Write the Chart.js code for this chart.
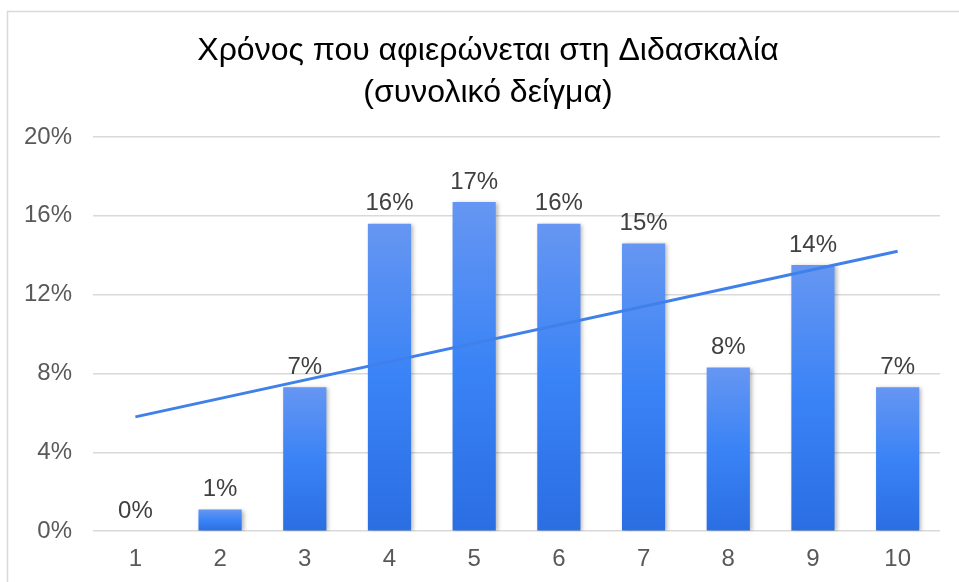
<!DOCTYPE html>
<html>
<head>
<meta charset="utf-8">
<script src="https://cdn.jsdelivr.net/npm/chart.js@4"></script>
<style>
  html, body { margin: 0; padding: 0; background: #fff; }
  #wrap { width: 959px; height: 582px; position: relative; }
</style>
</head>
<body>
<div id="wrap"><canvas id="c" width="959" height="582"></canvas></div>
<script>
// values
const categories = ['1', '2', '3', '4', '5', '6', '7', '8', '9', '10'];
const shares = [0, 1.1, 7.3, 15.6, 16.7, 15.6, 14.6, 8.3, 13.5, 7.3];
const shareLabels = ['0%', '1%', '7%', '16%', '17%', '16%', '15%', '8%', '14%', '7%'];
const trendEnds = [5.8, null, null, null, null, null, null, null, null, 14.2];
const yTicks = [0, 4, 8, 12, 16, 20];
const titleLines = ['Χρόνος που αφιερώνεται στη Διδασκαλία', '(συνολικό δείγμα)'];

const FONT = "'Liberation Sans', Arial, sans-serif";

function barFill(context){
  const chart = context.chart;
  const y = chart.scales && chart.scales.y;
  if (!chart.chartArea || !y || context.raw == null) return '#3a82f2';
  const top = y.getPixelForValue(context.raw);
  const bottom = y.getPixelForValue(0);
  const g = chart.ctx.createLinearGradient(0, top, 0, bottom);
  g.addColorStop(0, '#6696f2');
  g.addColorStop(0.5, '#3a83f6');
  g.addColorStop(1, '#2a6ee2');
  return g;
}

// outer frame + title (title is centred on the frame, not on the canvas)
const frame = {
  id: 'frame',
  beforeDraw(chart){
    const c = chart.ctx;
    c.save();
    c.strokeStyle = '#d9d9d9';
    c.lineWidth = 1.5;
    c.strokeRect(7.5, 11.5, 1000, 1000);
    c.font = '32px ' + FONT;
    c.fillStyle = '#000';
    c.textAlign = 'center';
    c.textBaseline = 'middle';
    titleLines.forEach((t, i) => c.fillText(t, 488, 51 + i * 42));
    c.restore();
  }
};

const barShadow = {
  id: 'barShadow',
  beforeDatasetDraw(chart, args){
    if (args.index !== 0) return;
    const c = chart.ctx;
    c.save();
    c.shadowColor = 'rgba(0,0,0,0.28)';
    c.shadowBlur = 4;
    c.shadowOffsetX = 2;
    c.shadowOffsetY = 1;
  },
  afterDatasetDraw(chart, args){
    if (args.index !== 0) return;
    chart.ctx.restore();
  }
};

const valueLabels = {
  id: 'valueLabels',
  afterDatasetsDraw(chart){
    const c = chart.ctx;
    const meta = chart.getDatasetMeta(0);
    c.save();
    c.font = '24px ' + FONT;
    c.fillStyle = '#404040';
    c.textAlign = 'center';
    c.textBaseline = 'bottom';
    meta.data.forEach((bar, i) => {
      c.fillText(shareLabels[i], bar.x, bar.y - 8);
    });
    c.restore();
  }
};

new Chart(document.getElementById('c'), {
  data: {
    labels: categories,
    datasets: [
      {
        type: 'bar',
        data: shares,
        backgroundColor: barFill,
        borderWidth: 0,
        categoryPercentage: 1,
        barPercentage: 0.51,
        order: 1
      },
      {
        type: 'line',
        data: trendEnds,
        spanGaps: true,
        borderColor: '#3f80ea',
        borderWidth: 3,
        pointRadius: 0,
        tension: 0,
        order: 0
      }
    ]
  },
  plugins: [frame, barShadow, valueLabels],
  options: {
    responsive: false,
    animation: false,
    layout: { padding: { left: 3, right: 19, top: 137, bottom: -6 } },
    plugins: {
      legend: { display: false },
      tooltip: { enabled: false },
      title: { display: false }
    },
    scales: {
      x: {
        grid: { display: false, drawTicks: false },
        border: { display: false },
        ticks: { color: '#595959', font: { family: FONT, size: 24 }, padding: 14 }
      },
      y: {
        min: 0,
        max: 20,
        afterBuildTicks(axis){ axis.ticks = yTicks.map(v => ({ value: v })); },
        grid: { color: '#d9d9d9', lineWidth: 1.5, drawTicks: false },
        border: { display: false },
        ticks: {
          color: '#595959',
          font: { family: FONT, size: 24 },
          padding: 21,
          callback: v => v + '%'
        }
      }
    }
  }
});
</script>
</body>
</html>
